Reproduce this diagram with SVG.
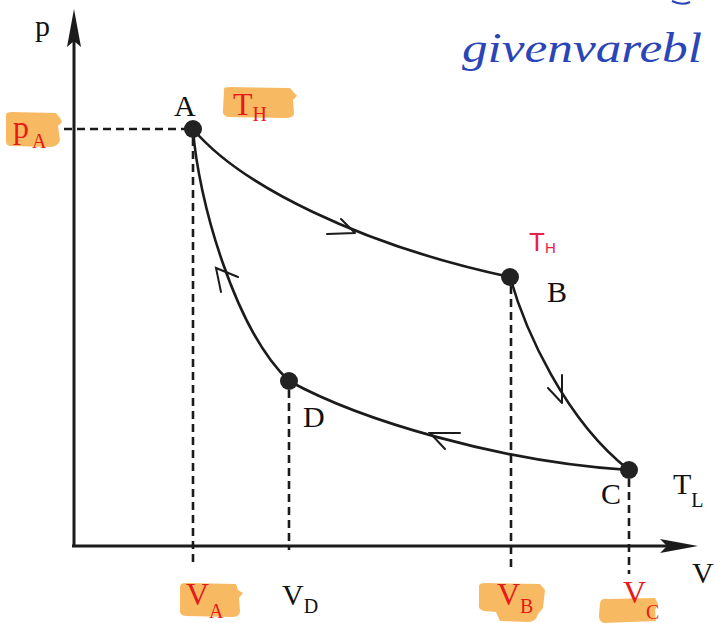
<svg xmlns="http://www.w3.org/2000/svg" width="715" height="623" viewBox="0 0 715 623">
<style>
  .ax{stroke:#1b1b1b;stroke-width:3;fill:none}
  .dash{stroke:#1b1b1b;stroke-width:2.6;fill:none;stroke-dasharray:8 5}
  .curve{stroke:#1b1b1b;stroke-width:2.6;fill:none}
  .harp{stroke:#1b1b1b;stroke-width:2;fill:none;stroke-linecap:round}
  .dot{fill:#222}
  .lbl{font-family:"Liberation Serif","DejaVu Serif",serif;fill:#111;font-size:30px}
  .sub{font-size:20px}
  .red{font-family:"Liberation Serif","DejaVu Serif",serif;fill:#e41b17;font-size:32px}
  .hl{fill:#f6b252;opacity:0.9}
  .hand{font-family:"Liberation Serif","DejaVu Serif",serif;font-style:italic;fill:#2a45b8}
</style>
<rect width="715" height="623" fill="#ffffff"/>

<g id="highlights">
  <path class="hl" d="M6,116 Q5,112 12,112 L56,113 L60,118 L62,122 L58,126 L60,140 Q58,147 50,147 L10,146 Q5,145 6,138 Z"/>
  <path class="hl" d="M224,90 Q223,87 230,87 L290,88 L297,96 L293,100 L294,114 Q293,118 286,118 L228,117 Q222,116 223,110 Z"/>
  <path class="hl" d="M180,588 Q179,583 186,583 L236,584 L238,590 L243,593 L239,598 L240,612 Q239,617 232,617 L186,616 Q179,616 180,609 Z"/>
  <path class="hl" d="M479,588 Q478,583 485,583 L540,584 L545,590 L543,608 L538,614 Q536,622 528,622 L500,621 L496,612 L484,611 Q478,610 479,604 Z"/>
  <path class="hl" d="M600,604 Q600,598 608,599 L655,598 L658,604 L655,610 L656,621 L604,623 Q598,621 599,614 Z"/>
</g>

<g id="axes">
  <line class="ax" x1="74" y1="546" x2="74" y2="40"/>
  <path fill="#1b1b1b" d="M74,9 L81,47 L74,41 L67,47 Z"/>
  <line class="ax" x1="72" y1="546" x2="668" y2="546"/>
  <path fill="#1b1b1b" d="M698,546 L660,539 L667,546 L660,553 Z"/>
  <text class="lbl" x="35" y="36" font-size="34">p</text>
  <text class="lbl" x="692" y="583">V</text>
</g>

<g id="guides">
  <line class="dash" x1="64" y1="129" x2="186" y2="129"/>
  <line class="dash" x1="193" y1="138" x2="193" y2="563"/>
  <line class="dash" x1="289" y1="390" x2="289" y2="550"/>
  <line class="dash" x1="511" y1="286" x2="511" y2="568"/>
  <line class="dash" x1="629" y1="479" x2="629" y2="574"/>
</g>

<g id="connectors">
  <path id="edge-AB" class="curve" d="M193,129 C240,185 360,245 510,277"/>
  <path id="edge-BC" class="curve" d="M510,277 C525,330 565,420 629,470"/>
  <path id="edge-CD" class="curve" d="M629,470 C500,462 360,420 289,381"/>
  <path id="edge-DA" class="curve" d="M289,381 C235,330 198,200 193,129"/>
  <path class="harp" d="M327,234 L355,233 M341,219 L355,233"/>
  <path class="harp" d="M562,375 L562,403 M548,388 L562,403"/>
  <path class="harp" d="M460,433 L430,433 L445,449"/>
  <path class="harp" d="M221,292 L216,268 L238,277"/>
</g>

<g id="node-A">
  <circle class="dot" cx="193" cy="129" r="9"/>
  <text class="lbl" x="174" y="116">A</text>
</g>
<g id="node-B">
  <circle class="dot" cx="510" cy="277" r="9"/>
  <text class="lbl" x="547" y="302">B</text>
</g>
<g id="node-C">
  <circle class="dot" cx="629" cy="470" r="9"/>
  <text class="lbl" x="601" y="504">C</text>
</g>
<g id="node-D">
  <circle class="dot" cx="289" cy="381" r="9"/>
  <text class="lbl" x="303" y="427">D</text>
</g>

<g id="labels">
  <text class="red" x="13" y="138" font-size="38">p<tspan class="sub" dy="10" x="32">A</tspan></text>
  <text class="red" x="233" y="115" font-size="38">T<tspan class="sub" dy="6">H</tspan></text>
  <text class="red" x="186" y="605">V<tspan class="sub" dy="13">A</tspan></text>
  <text class="lbl" x="282" y="605">V<tspan class="sub" dy="8">D</tspan></text>
  <text class="red" x="497" y="605">V<tspan class="sub" dy="8">B</tspan></text>
  <text class="red" x="623" y="603">V<tspan class="sub" dy="16">C</tspan></text>
  <text class="lbl" x="673" y="494">T<tspan class="sub" dy="13">L</tspan></text>
  <text font-family="Liberation Sans, sans-serif" fill="#e8204a" font-size="26" x="529" y="251">T<tspan font-size="15" dy="2">H</tspan></text>
  <text class="hand" x="462" y="62" font-size="42" textLength="240" lengthAdjust="spacingAndGlyphs">givenvarebl</text>
  <path d="M672,1 Q682,6 690,2" stroke="#2a45b8" stroke-width="2" fill="none"/>
</g>
</svg>
